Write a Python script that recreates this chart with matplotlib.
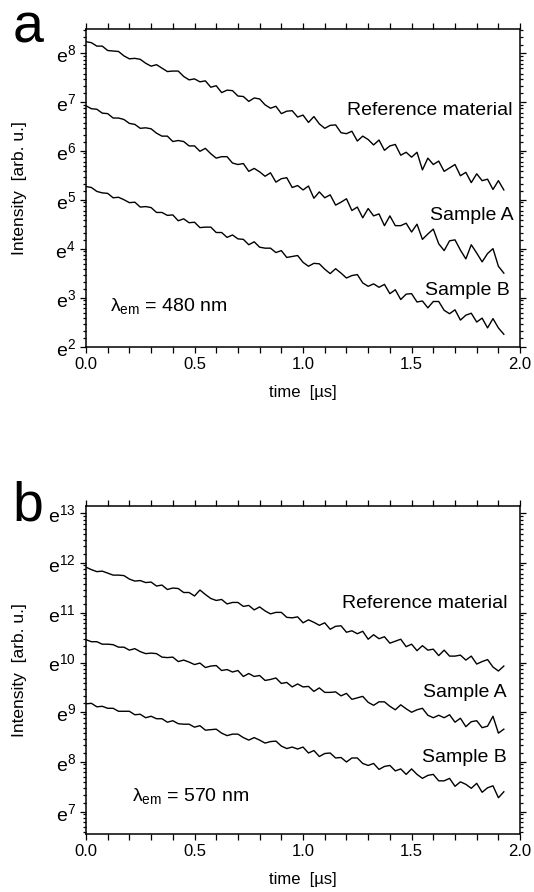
import numpy as np
import matplotlib
matplotlib.use('Agg')
import matplotlib.pyplot as plt
from matplotlib.ticker import LogLocator, FuncFormatter, MultipleLocator, NullFormatter

plt.rcParams['font.family'] = ['Liberation Sans', 'DejaVu Sans']
plt.rcParams['mathtext.fontset'] = 'custom'
plt.rcParams['mathtext.rm'] = 'Liberation Sans'
plt.rcParams['mathtext.it'] = 'Liberation Sans'

# time grid [us], step 0.025
t = np.arange(78) * 0.025

# ln(intensity) (lambda_em = 480 nm)
ref_a = [8.24, 8.22, 8.15, 8.15, 8.06, 8.05, 8.04, 7.95, 7.89, 7.90,
         7.88, 7.80, 7.74, 7.77, 7.70, 7.63, 7.64, 7.64, 7.53, 7.46,
         7.48, 7.42, 7.44, 7.31, 7.34, 7.20, 7.25, 7.24, 7.13, 7.12,
         7.02, 7.09, 7.07, 6.95, 6.88, 6.92, 6.77, 6.82, 6.83, 6.70,
         6.74, 6.59, 6.71, 6.56, 6.47, 6.53, 6.54, 6.38, 6.36, 6.41,
         6.21, 6.31, 6.24, 6.13, 6.23, 6.02, 6.11, 6.14, 5.92, 5.98,
         5.88, 5.98, 5.62, 5.86, 5.73, 5.80, 5.59, 5.66, 5.73, 5.50,
         5.57, 5.36, 5.54, 5.40, 5.43, 5.22, 5.40, 5.21]
sampA_a = [6.93, 6.87, 6.86, 6.78, 6.77, 6.68, 6.68, 6.65, 6.57, 6.55,
           6.47, 6.48, 6.46, 6.37, 6.31, 6.31, 6.20, 6.22, 6.20, 6.11,
           6.11, 6.00, 6.06, 5.95, 5.86, 5.89, 5.89, 5.76, 5.73, 5.75,
           5.59, 5.65, 5.58, 5.49, 5.56, 5.37, 5.44, 5.46, 5.26, 5.30,
           5.21, 5.29, 5.04, 5.17, 5.05, 5.11, 4.90, 4.96, 5.03, 4.79,
           4.86, 4.64, 4.83, 4.68, 4.72, 4.48, 4.68, 4.48, 4.48, 4.53,
           4.35, 4.51, 4.20, 4.31, 4.41, 4.11, 3.97, 4.17, 4.19, 3.98,
           3.80, 4.09, 3.92, 3.74, 3.91, 4.01, 3.65, 3.51]
sampB_a = [5.28, 5.26, 5.18, 5.15, 5.14, 5.05, 5.06, 5.01, 4.95, 4.96,
           4.86, 4.87, 4.85, 4.75, 4.75, 4.69, 4.70, 4.58, 4.62, 4.54,
           4.55, 4.44, 4.45, 4.45, 4.34, 4.34, 4.24, 4.29, 4.21, 4.20,
           4.09, 4.15, 4.04, 4.02, 4.02, 3.93, 3.97, 3.83, 3.85, 3.87,
           3.73, 3.65, 3.71, 3.70, 3.59, 3.50, 3.60, 3.51, 3.41, 3.46,
           3.48, 3.31, 3.24, 3.29, 3.22, 3.28, 3.09, 3.17, 2.97, 3.08,
           3.09, 2.92, 2.94, 2.80, 2.93, 2.93, 2.75, 2.68, 2.76, 2.55,
           2.65, 2.69, 2.51, 2.59, 2.39, 2.58, 2.39, 2.26]

# ln(intensity) (lambda_em = 570 nm)
ref_b = [11.92, 11.87, 11.83, 11.84, 11.80, 11.76, 11.76, 11.75, 11.68, 11.64,
         11.65, 11.61, 11.62, 11.54, 11.56, 11.47, 11.50, 11.49, 11.41, 11.41,
         11.34, 11.46, 11.37, 11.29, 11.25, 11.27, 11.18, 11.21, 11.21, 11.13,
         11.15, 11.06, 11.12, 11.04, 10.98, 11.01, 11.01, 10.91, 10.90, 10.92,
         10.80, 10.86, 10.81, 10.75, 10.80, 10.67, 10.73, 10.74, 10.61, 10.64,
         10.58, 10.63, 10.47, 10.56, 10.48, 10.52, 10.39, 10.43, 10.47, 10.32,
         10.37, 10.24, 10.34, 10.25, 10.27, 10.14, 10.25, 10.13, 10.13, 10.15,
         10.05, 10.13, 9.97, 10.02, 10.06, 9.91, 9.83, 9.93]
sampA_b = [10.46, 10.42, 10.42, 10.37, 10.37, 10.36, 10.31, 10.31, 10.25, 10.28,
           10.22, 10.18, 10.19, 10.18, 10.11, 10.10, 10.11, 10.02, 10.05, 10.01,
           9.96, 9.99, 9.90, 9.93, 9.94, 9.84, 9.86, 9.81, 9.84, 9.72,
           9.78, 9.72, 9.74, 9.64, 9.66, 9.69, 9.58, 9.60, 9.51, 9.57,
           9.51, 9.52, 9.42, 9.49, 9.40, 9.40, 9.41, 9.33, 9.38, 9.26,
           9.29, 9.32, 9.20, 9.14, 9.21, 9.21, 9.12, 9.05, 9.15, 9.07,
           9.00, 9.05, 9.08, 8.94, 8.89, 8.94, 8.89, 8.95, 8.80, 8.88,
           8.71, 8.81, 8.83, 8.69, 8.72, 8.92, 8.58, 8.66]
sampB_b = [9.17, 9.18, 9.11, 9.12, 9.08, 9.08, 9.02, 9.02, 9.02, 8.95,
           8.96, 8.89, 8.92, 8.87, 8.87, 8.80, 8.83, 8.77, 8.76, 8.76,
           8.70, 8.73, 8.64, 8.65, 8.66, 8.58, 8.53, 8.56, 8.56, 8.49,
           8.44, 8.49, 8.44, 8.38, 8.41, 8.42, 8.32, 8.27, 8.30, 8.26,
           8.30, 8.18, 8.23, 8.11, 8.17, 8.18, 8.08, 8.09, 8.00, 8.08,
           8.08, 7.97, 7.93, 7.97, 7.85, 7.91, 7.93, 7.82, 7.86, 7.75,
           7.86, 7.75, 7.67, 7.73, 7.75, 7.62, 7.62, 7.67, 7.51, 7.60,
           7.55, 7.47, 7.57, 7.39, 7.48, 7.52, 7.28, 7.40]

labels = ['Reference material', 'Sample A', 'Sample B']


def efmt(v, pos):
    n = int(round(np.log(v)))
    return r'$\mathregular{e^{%d}}$' % n


def setup(ax, ylo, yhi):
    ax.set_yscale('log', base=np.e)
    ax.set_xlim(0, 2.0)
    ax.set_ylim(np.exp(ylo), np.exp(yhi))
    ax.xaxis.set_major_locator(MultipleLocator(0.5))
    ax.xaxis.set_minor_locator(MultipleLocator(0.1))
    ax.yaxis.set_major_locator(LogLocator(base=np.e))
    ax.yaxis.set_minor_locator(LogLocator(base=np.e, subs=np.arange(1.2, 2.7, 0.2)))
    ax.yaxis.set_major_formatter(FuncFormatter(efmt))
    ax.yaxis.set_minor_formatter(NullFormatter())
    ax.xaxis.set_major_formatter(FuncFormatter(lambda v, p: '%.1f' % v))
    ax.tick_params(which='both', direction='out', top=True, right=True, width=0.9)
    ax.tick_params(which='major', length=4)
    ax.tick_params(which='minor', length=2.5)
    ax.tick_params(axis='x', which='major', labelsize=12, length=4)
    ax.tick_params(axis='x', which='minor', length=4)
    ax.tick_params(axis='y', labelsize=14)
    for s in ax.spines.values():
        s.set_linewidth(1.1)
    ax.set_ylabel('Intensity  [arb. u.]', fontsize=12.5)
    ax.yaxis.set_label_coords(-0.135, 0.5)
    ax.set_xlabel('time  [µs]', fontsize=12, labelpad=9)


fig = plt.figure(figsize=(5.34, 8.92), dpi=100)
ax1 = fig.add_axes([0.161, 0.611, 0.813, 0.3565])
ax2 = fig.add_axes([0.161, 0.065, 0.813, 0.3677])

for ax, data, ylo, yhi in [(ax1, [ref_a, sampA_a, sampB_a], 2.0, 8.5),
                           (ax2, [ref_b, sampA_b, sampB_b], 6.55, 13.15)]:
    for d in data:
        ax.plot(t, np.exp(d), color='black', lw=1.0)
    setup(ax, ylo, yhi)

# panel a text
ax1.text(0.982, 0.745, labels[0], transform=ax1.transAxes, ha='right', va='center', fontsize=14)
ax1.text(0.986, 0.415, labels[1], transform=ax1.transAxes, ha='right', va='center', fontsize=14)
ax1.text(0.975, 0.179, labels[2], transform=ax1.transAxes, ha='right', va='center', fontsize=14)
ax1.text(0.055, 0.129, r'$\mathregular{\lambda_{em}}$ = 480 nm', transform=ax1.transAxes,
         ha='left', va='center', fontsize=14)

# panel b text
ax2.text(0.972, 0.704, labels[0], transform=ax2.transAxes, ha='right', va='center', fontsize=14)
ax2.text(0.968, 0.433, labels[1], transform=ax2.transAxes, ha='right', va='center', fontsize=14)
ax2.text(0.970, 0.232, labels[2], transform=ax2.transAxes, ha='right', va='center', fontsize=14)
ax2.text(0.106, 0.116, r'$\mathregular{\lambda_{em}}$ = 570 nm', transform=ax2.transAxes,
         ha='left', va='center', fontsize=14)

fig.text(0.024, 0.952, 'a', fontsize=40, ha='left', va='baseline')
fig.text(0.024, 0.417, 'b', fontsize=40, ha='left', va='baseline')

fig.savefig('out.png', dpi=100)
